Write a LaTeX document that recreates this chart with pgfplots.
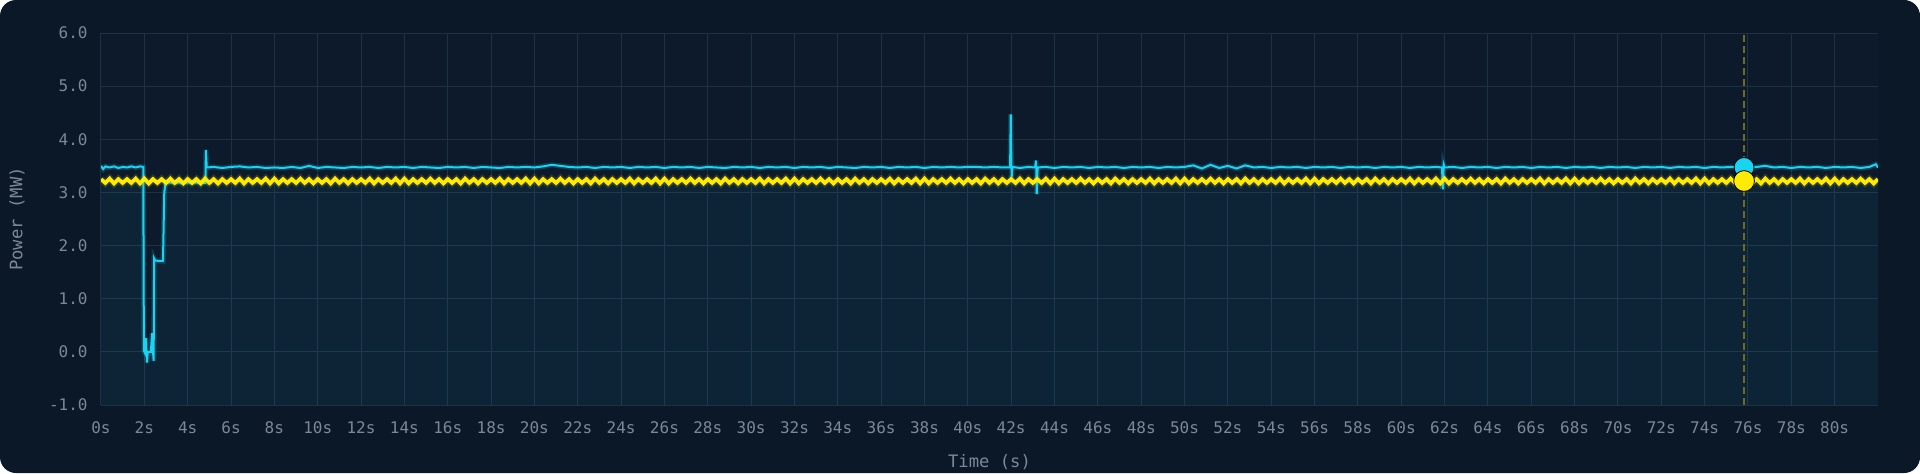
\documentclass[border=0pt]{standalone}
\usepackage{pgfplots}
\pgfplotsset{compat=1.18}
\usepackage{fontspec}
\setmainfont{DejaVu Sans Mono}
\definecolor{outerbg}{HTML}{0B1828}
\definecolor{plotbg}{HTML}{0C1A2B}
\definecolor{gridc}{HTML}{1D3244}
\definecolor{txt}{HTML}{7D8896}
\definecolor{cyanl}{HTML}{18D4F2}
\definecolor{yell}{HTML}{FFEA00}
\definecolor{dashc}{HTML}{706C1C}
\begin{document}
\begin{tikzpicture}
\useasboundingbox (0,0) rectangle (960pt,236.5pt);
\fill[white] (0,0) rectangle (960pt,236.5pt);
\fill[outerbg, rounded corners=8pt] (0,0) rectangle (960pt,236.5pt);
\begin{axis}[
  at={(50.5pt,34pt)}, anchor=south west,
  scale only axis, width=888.5pt, height=186pt,
  xmin=0, xmax=82, ymin=-1, ymax=6,
  axis background/.style={fill=plotbg},
  axis line style={draw=none},
  major tick style={draw=none}, minor tick style={draw=none},
  xtick={0,2,...,80}, ytick={-1,0,...,6},
  xticklabels={0s,2s,4s,6s,8s,10s,12s,14s,16s,18s,20s,22s,24s,26s,28s,30s,32s,34s,36s,38s,40s,42s,44s,46s,48s,50s,52s,54s,56s,58s,60s,62s,64s,66s,68s,70s,72s,74s,76s,78s,80s},
  yticklabels={-1.0,0.0,1.0,2.0,3.0,4.0,5.0,6.0},
  grid=major, grid style={gridc, line width=0.5pt},
  tick label style={font=\fontsize{8}{9}\selectfont, text=txt},
  yticklabel style={anchor=east, inner sep=0pt, xshift=-6.5pt},
  xticklabel style={anchor=center, inner sep=0pt, yshift=-11.35pt},
  label style={font=\fontsize{8.6}{10}\selectfont, text=txt},
  xlabel={Time (s)}, ylabel={Power (MW)},
  xlabel style={at={(axis description cs:0.5,-0.1532)}, anchor=center, inner sep=0pt},
  ylabel style={at={(axis description cs:-0.0473,0.5)}, anchor=center, inner sep=0pt},
]
% filled area
\addplot[draw=none, fill=cyanl, fill opacity=0.06] coordinates {
(0,-1)(0,3.21)(1.98,3.21)(1.98,0.0)(2.43,0.0)(2.45,1.74)(2.86,1.71)(2.95,3.18)(82,3.21)(82,-1)};
% cyan series
\addplot[cyanl, line width=1pt, preaction={draw, cyanl, line width=2.6pt, opacity=0.18}] coordinates {
(0,3.50)(0.1,3.44)(0.2,3.49)(0.4,3.47)(0.6,3.49)(0.8,3.46)(1.0,3.48)(1.2,3.47)(1.4,3.49)(1.6,3.47)(1.8,3.49)(1.95,3.48)
(1.98,0.02)(2.04,-0.03)(2.08,0.26)(2.12,-0.2)(2.16,0.0)(2.3,0.0)(2.36,0.35)(2.40,0.0)(2.43,-0.17)(2.45,1.76)(2.5,1.72)(2.7,1.71)(2.86,1.71)(2.92,3.0)(2.98,3.18)(3.4,3.19)(3.8,3.18)(4.2,3.19)(4.6,3.18)(4.82,3.18)(4.84,3.80)(4.88,3.47)
(5.2,3.48)(5.6,3.46)(6.0,3.48)(6.4,3.49)(6.8,3.47)(7.2,3.48)(7.6,3.46)(8.0,3.47)(8.4,3.46)(8.8,3.48)(9.2,3.46)(9.6,3.50)(10.0,3.46)(10.4,3.48)(10.8,3.47)(11.2,3.46)(11.6,3.48)(12.0,3.47)(12.4,3.48)(12.8,3.46)(13.2,3.48)(13.6,3.47)(14.0,3.48)(14.4,3.46)(14.8,3.48)(15.2,3.47)(15.6,3.46)(16.0,3.48)(16.4,3.47)(16.8,3.48)(17.2,3.46)(17.6,3.48)(18.0,3.47)(18.4,3.46)(18.8,3.48)(19.2,3.47)(19.6,3.48)(20.0,3.47)(20.4,3.49)(20.8,3.52)(21.2,3.50)(21.6,3.48)(22.0,3.47)(22.4,3.48)(22.8,3.46)(23.2,3.48)(23.6,3.47)(24.0,3.48)(24.4,3.46)(24.8,3.48)(25.2,3.47)(25.6,3.48)(26.0,3.46)(26.4,3.48)(26.8,3.47)(27.2,3.48)(27.6,3.46)(28.0,3.48)(28.4,3.47)(28.8,3.46)(29.2,3.48)(29.6,3.47)(30.0,3.48)(30.4,3.46)(30.8,3.48)(31.2,3.47)(31.6,3.48)(32.0,3.46)(32.4,3.48)(32.8,3.47)(33.2,3.48)(33.6,3.46)(34.0,3.48)(34.4,3.47)(34.8,3.46)(35.2,3.48)(35.6,3.47)(36.0,3.48)(36.4,3.46)(36.8,3.48)(37.2,3.47)(37.6,3.48)(38.0,3.46)(38.4,3.48)(38.8,3.47)(39.2,3.48)(39.6,3.47)(40.0,3.48)(40.4,3.48)(40.8,3.47)(41.2,3.48)(41.6,3.47)(41.95,3.47)(41.98,4.47)(42.02,3.28)(42.06,3.48)(42.4,3.46)(42.8,3.48)(43.1,3.47)(43.15,3.60)(43.18,2.97)(43.22,3.47)
(43.6,3.48)(44.0,3.46)(44.4,3.48)(44.8,3.47)(45.2,3.48)(45.6,3.46)(46.0,3.48)(46.4,3.47)(46.8,3.48)(47.2,3.46)(47.6,3.48)(48.0,3.47)(48.4,3.48)(48.8,3.46)(49.2,3.48)(49.6,3.47)(50.0,3.48)(50.4,3.51)(50.8,3.45)(51.2,3.52)(51.6,3.46)(52.0,3.50)(52.4,3.45)(52.8,3.51)(53.2,3.47)(53.6,3.48)(54.0,3.46)(54.4,3.48)(54.8,3.47)(55.2,3.48)(55.6,3.46)(56.0,3.48)(56.4,3.47)(56.8,3.48)(57.2,3.46)(57.6,3.48)(58.0,3.47)(58.4,3.48)(58.8,3.46)(59.2,3.48)(59.6,3.47)(60.0,3.48)(60.4,3.46)(60.8,3.48)(61.2,3.47)(61.6,3.48)(61.88,3.47)(61.92,3.06)(61.96,3.52)(62.0,3.47)(62.4,3.48)(62.8,3.46)(63.2,3.48)(63.6,3.47)(64.0,3.48)(64.4,3.46)(64.8,3.48)(65.2,3.47)(65.6,3.48)(66.0,3.46)(66.4,3.48)(66.8,3.47)(67.2,3.48)(67.6,3.46)(68.0,3.48)(68.4,3.47)(68.8,3.48)(69.2,3.46)(69.6,3.48)(70.0,3.47)(70.4,3.48)(70.8,3.46)(71.2,3.48)(71.6,3.47)(72.0,3.48)(72.4,3.46)(72.8,3.48)(73.2,3.47)(73.6,3.48)(74.0,3.46)(74.4,3.48)(74.8,3.47)(75.2,3.48)(75.6,3.47)(76.0,3.48)(76.4,3.48)(76.8,3.50)(77.2,3.47)(77.6,3.48)(78.0,3.46)(78.4,3.48)(78.8,3.47)(79.2,3.48)(79.6,3.46)(80.0,3.48)(80.4,3.47)(80.8,3.48)(81.2,3.46)(81.6,3.48)(81.9,3.53)(82.0,3.47)};
% yellow series
\addplot[yell, line width=1.9pt, preaction={draw, yell, line width=3.6pt, opacity=0.15}] coordinates {
(0,3.25)(0.2,3.18)(0.4,3.26)(0.6,3.17)(0.8,3.25)(1,3.18)(1.2,3.25)(1.4,3.18)(1.6,3.26)(1.8,3.17)
(2,3.26)(2.2,3.17)(2.4,3.25)(2.6,3.18)(2.8,3.25)(3,3.18)(3.2,3.26)(3.4,3.18)(3.6,3.25)(3.8,3.17)
(4,3.25)(4.2,3.18)(4.4,3.25)(4.6,3.17)(4.8,3.26)(5,3.18)(5.2,3.25)(5.4,3.17)(5.6,3.25)(5.8,3.18)
(6,3.25)(6.2,3.18)(6.4,3.26)(6.6,3.17)(6.8,3.25)(7,3.18)(7.2,3.25)(7.4,3.18)(7.6,3.26)(7.8,3.17)
(8,3.26)(8.2,3.17)(8.4,3.25)(8.6,3.18)(8.8,3.25)(9,3.18)(9.2,3.26)(9.4,3.18)(9.6,3.25)(9.8,3.17)
(10,3.25)(10.2,3.18)(10.4,3.25)(10.6,3.17)(10.8,3.26)(11,3.18)(11.2,3.25)(11.4,3.17)(11.6,3.25)(11.8,3.18)
(12,3.25)(12.2,3.18)(12.4,3.26)(12.6,3.17)(12.8,3.25)(13,3.18)(13.2,3.25)(13.4,3.18)(13.6,3.26)(13.8,3.17)
(14,3.26)(14.2,3.17)(14.4,3.25)(14.6,3.18)(14.8,3.25)(15,3.18)(15.2,3.26)(15.4,3.18)(15.6,3.25)(15.8,3.17)
(16,3.25)(16.2,3.18)(16.4,3.25)(16.6,3.17)(16.8,3.26)(17,3.18)(17.2,3.25)(17.4,3.17)(17.6,3.25)(17.8,3.18)
(18,3.25)(18.2,3.18)(18.4,3.26)(18.6,3.17)(18.8,3.25)(19,3.18)(19.2,3.25)(19.4,3.18)(19.6,3.26)(19.8,3.17)
(20,3.26)(20.2,3.17)(20.4,3.25)(20.6,3.18)(20.8,3.25)(21,3.18)(21.2,3.26)(21.4,3.18)(21.6,3.25)(21.8,3.17)
(22,3.25)(22.2,3.18)(22.4,3.25)(22.6,3.17)(22.8,3.26)(23,3.18)(23.2,3.25)(23.4,3.17)(23.6,3.25)(23.8,3.18)
(24,3.25)(24.2,3.18)(24.4,3.26)(24.6,3.17)(24.8,3.25)(25,3.18)(25.2,3.25)(25.4,3.18)(25.6,3.26)(25.8,3.17)
(26,3.26)(26.2,3.17)(26.4,3.25)(26.6,3.18)(26.8,3.25)(27,3.18)(27.2,3.26)(27.4,3.18)(27.6,3.25)(27.8,3.17)
(28,3.25)(28.2,3.18)(28.4,3.25)(28.6,3.17)(28.8,3.26)(29,3.18)(29.2,3.25)(29.4,3.17)(29.6,3.25)(29.8,3.18)
(30,3.25)(30.2,3.18)(30.4,3.26)(30.6,3.17)(30.8,3.25)(31,3.18)(31.2,3.25)(31.4,3.18)(31.6,3.26)(31.8,3.17)
(32,3.26)(32.2,3.17)(32.4,3.25)(32.6,3.18)(32.8,3.25)(33,3.18)(33.2,3.26)(33.4,3.18)(33.6,3.25)(33.8,3.17)
(34,3.25)(34.2,3.18)(34.4,3.25)(34.6,3.17)(34.8,3.26)(35,3.18)(35.2,3.25)(35.4,3.17)(35.6,3.25)(35.8,3.18)
(36,3.25)(36.2,3.18)(36.4,3.26)(36.6,3.17)(36.8,3.25)(37,3.18)(37.2,3.25)(37.4,3.18)(37.6,3.26)(37.8,3.17)
(38,3.26)(38.2,3.17)(38.4,3.25)(38.6,3.18)(38.8,3.25)(39,3.18)(39.2,3.26)(39.4,3.18)(39.6,3.25)(39.8,3.17)
(40,3.25)(40.2,3.18)(40.4,3.25)(40.6,3.17)(40.8,3.26)(41,3.18)(41.2,3.25)(41.4,3.17)(41.6,3.25)(41.8,3.18)
(42,3.25)(42.2,3.18)(42.4,3.26)(42.6,3.17)(42.8,3.25)(43,3.18)(43.2,3.25)(43.4,3.18)(43.6,3.26)(43.8,3.17)
(44,3.26)(44.2,3.17)(44.4,3.25)(44.6,3.18)(44.8,3.25)(45,3.18)(45.2,3.26)(45.4,3.18)(45.6,3.25)(45.8,3.17)
(46,3.25)(46.2,3.18)(46.4,3.25)(46.6,3.17)(46.8,3.26)(47,3.18)(47.2,3.25)(47.4,3.17)(47.6,3.25)(47.8,3.18)
(48,3.25)(48.2,3.18)(48.4,3.26)(48.6,3.17)(48.8,3.25)(49,3.18)(49.2,3.25)(49.4,3.18)(49.6,3.26)(49.8,3.17)
(50,3.26)(50.2,3.17)(50.4,3.25)(50.6,3.18)(50.8,3.25)(51,3.18)(51.2,3.26)(51.4,3.18)(51.6,3.25)(51.8,3.17)
(52,3.25)(52.2,3.18)(52.4,3.25)(52.6,3.17)(52.8,3.26)(53,3.18)(53.2,3.25)(53.4,3.17)(53.6,3.25)(53.8,3.18)
(54,3.25)(54.2,3.18)(54.4,3.26)(54.6,3.17)(54.8,3.25)(55,3.18)(55.2,3.25)(55.4,3.18)(55.6,3.26)(55.8,3.17)
(56,3.26)(56.2,3.17)(56.4,3.25)(56.6,3.18)(56.8,3.25)(57,3.18)(57.2,3.26)(57.4,3.18)(57.6,3.25)(57.8,3.17)
(58,3.25)(58.2,3.18)(58.4,3.25)(58.6,3.17)(58.8,3.26)(59,3.18)(59.2,3.25)(59.4,3.17)(59.6,3.25)(59.8,3.18)
(60,3.25)(60.2,3.18)(60.4,3.26)(60.6,3.17)(60.8,3.25)(61,3.18)(61.2,3.25)(61.4,3.18)(61.6,3.26)(61.8,3.17)
(62,3.26)(62.2,3.17)(62.4,3.25)(62.6,3.18)(62.8,3.25)(63,3.18)(63.2,3.26)(63.4,3.18)(63.6,3.25)(63.8,3.17)
(64,3.25)(64.2,3.18)(64.4,3.25)(64.6,3.17)(64.8,3.26)(65,3.18)(65.2,3.25)(65.4,3.17)(65.6,3.25)(65.8,3.18)
(66,3.25)(66.2,3.18)(66.4,3.26)(66.6,3.17)(66.8,3.25)(67,3.18)(67.2,3.25)(67.4,3.18)(67.6,3.26)(67.8,3.17)
(68,3.26)(68.2,3.17)(68.4,3.25)(68.6,3.18)(68.8,3.25)(69,3.18)(69.2,3.26)(69.4,3.18)(69.6,3.25)(69.8,3.17)
(70,3.25)(70.2,3.18)(70.4,3.25)(70.6,3.17)(70.8,3.26)(71,3.18)(71.2,3.25)(71.4,3.17)(71.6,3.25)(71.8,3.18)
(72,3.25)(72.2,3.18)(72.4,3.26)(72.6,3.17)(72.8,3.25)(73,3.18)(73.2,3.25)(73.4,3.18)(73.6,3.26)(73.8,3.17)
(74,3.26)(74.2,3.17)(74.4,3.25)(74.6,3.18)(74.8,3.25)(75,3.18)(75.2,3.26)(75.4,3.18)(75.6,3.25)(75.8,3.17)
(76,3.25)(76.2,3.18)(76.4,3.25)(76.6,3.17)(76.8,3.26)(77,3.18)(77.2,3.25)(77.4,3.17)(77.6,3.25)(77.8,3.18)
(78,3.25)(78.2,3.18)(78.4,3.26)(78.6,3.17)(78.8,3.25)(79,3.18)(79.2,3.25)(79.4,3.18)(79.6,3.26)(79.8,3.17)
(80,3.26)(80.2,3.17)(80.4,3.25)(80.6,3.18)(80.8,3.25)(81,3.18)(81.2,3.26)(81.4,3.18)(81.6,3.25)(81.8,3.17)(82,3.25)};
% cursor
\addplot[dashc, line width=0.7pt, dash pattern=on 3.5pt off 2pt] coordinates {(75.82,-1)(75.82,6)};
\addplot[only marks, mark=*, mark size=5pt, mark options={fill=cyanl, draw=none}] coordinates {(75.82,3.47)};
\addplot[only marks, mark=*, mark size=5.2pt, mark options={fill=yell, draw=none}] coordinates {(75.82,3.215)};
\end{axis}
\end{tikzpicture}
\end{document}
